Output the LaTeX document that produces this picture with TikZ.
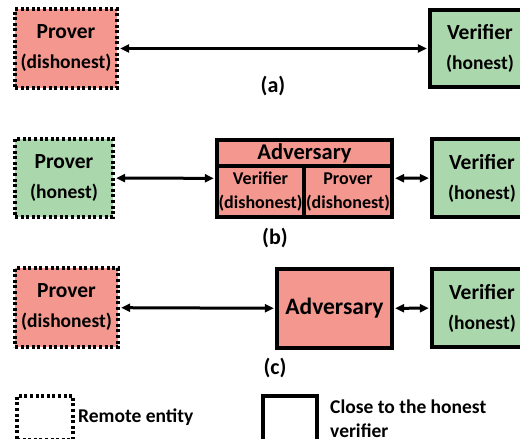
\documentclass[tikz,border=0pt]{standalone}
\usepackage{fontspec}
\setmainfont{Carlito}
\usetikzlibrary{arrows.meta}
\definecolor{badred}{RGB}{243,151,143}
\definecolor{goodgreen}{RGB}{171,215,172}
\tikzset{
  x=1pt, y=-1pt,
  entity/.style={draw=black, line width=3.3pt, inner sep=0pt, align=center,
    font=\bfseries\fontsize{19.5}{30}\selectfont},
  remote/.style={entity, dash pattern=on 3pt off 2.6pt},
  near/.style={entity},
  honest/.style={fill=goodgreen},
  dishonest/.style={fill=badred},
  link/.style={line width=3pt, {Triangle[length=9pt,width=8pt]}-{Triangle[length=9pt,width=8pt]}, shorten <=1.5pt, shorten >=1.5pt},
  caption/.style={font=\bfseries\fontsize{22}{24}\selectfont},
  legendtext/.style={font=\bfseries\fontsize{19.5}{24}\selectfont, anchor=west, inner sep=0pt},
}
\newcommand{\ttl}[1]{{\fontsize{21.5}{30}\selectfont #1}}
\begin{document}
\begin{tikzpicture}
\useasboundingbox (0,0) rectangle (520,439);
\clip (0,0) rectangle (520,439);

% (a) direct exchange
\node[remote, dishonest, minimum width=102pt, minimum height=79pt] (pa) at (66,48.5) {\ttl{Prover}\\(dishonest)};
\node[near, honest, minimum width=100pt, minimum height=77pt] (va) at (480,48.5) {\ttl{Verifier}\\(honest)};
\draw[link] (pa) -- (va);
\node[caption] (capa) at (273,86) {(a)};

% (b) relay adversary between honest parties
\node[remote, honest, minimum width=98pt, minimum height=78pt] (pb) at (64,178) {\ttl{Prover}\\(honest)};
\node[near, dishonest, minimum width=175pt, minimum height=77pt] (adb) at (304.5,178.5) {};
\draw[line width=3.3pt] (adb.west |- 0,166) -- (adb.east |- 0,166);
\draw[line width=3.3pt] (304,166) -- (adb.south -| 304,0);
\node[font=\bfseries\fontsize{22.5}{24}\selectfont] (adbt) at (304.5,153) {Adversary};
\node[align=center, font=\bfseries\fontsize{18}{24}\selectfont, inner sep=0pt] (adbv) at (260.5,192) {Verifier\\(dishonest)};
\node[align=center, font=\bfseries\fontsize{18}{24}\selectfont, inner sep=0pt] (adbp) at (348,192) {Prover\\(dishonest)};
\node[near, honest, minimum width=100pt, minimum height=78pt] (vb) at (482,178) {\ttl{Verifier}\\(honest)};
\draw[link] (pb) -- (adb);
\draw[link] (adb) -- (vb);
\node[caption] (capb) at (275,238) {(b)};

% (c) adversary next to the verifier, remote dishonest prover
\node[remote, dishonest, minimum width=103pt, minimum height=79pt] (pc) at (66.5,307.5) {\ttl{Prover}\\(dishonest)};
\node[near, dishonest, minimum width=115pt, minimum height=79pt, font=\bfseries\fontsize{23.5}{30}\selectfont] (adc) at (334.5,308.5) {Adversary};
\node[near, honest, minimum width=100pt, minimum height=78pt] (vc) at (482,308) {\ttl{Verifier}\\(honest)};
\draw[link] (pc) -- (adc);
\draw[link] (adc) -- (vc);
\node[caption] (capc) at (275,368) {(c)};

% legend
\node[remote, minimum width=56pt, minimum height=44pt] (lgr) at (45,418) {};
\node[legendtext] (lgrt) at (78,417) {Remote entity};
\node[near, minimum width=54pt, minimum height=46pt] (lgn) at (290,419) {};
\node[legendtext] (lgnt1) at (330,407) {Close to the honest};
\node[legendtext] (lgnt2) at (330,431) {verifier};
\end{tikzpicture}
\end{document}
